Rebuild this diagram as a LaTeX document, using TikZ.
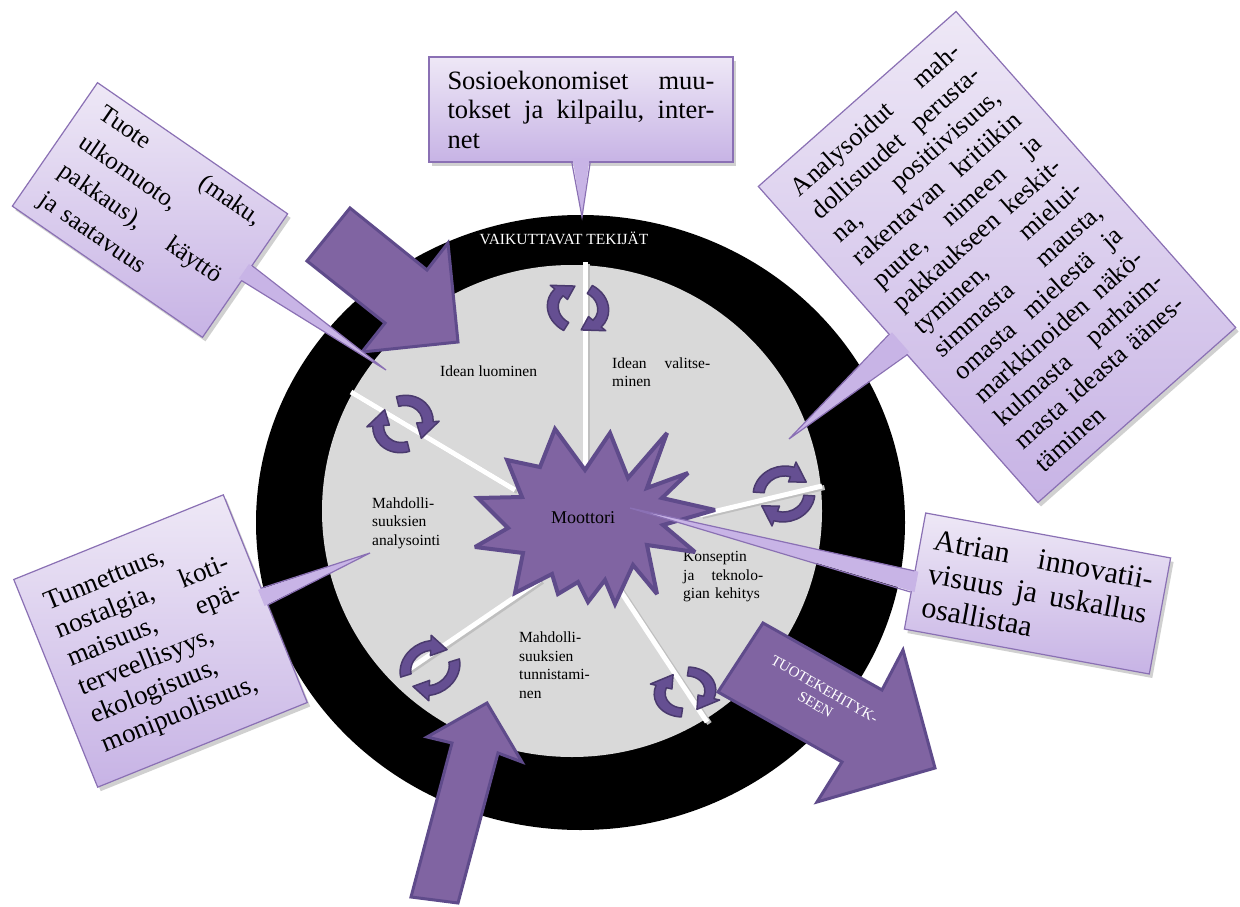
\documentclass[tikz,border=0pt]{standalone}
\usepackage{fontspec}
\setmainfont{Liberation Serif}
\usetikzlibrary{calc,shadows}
\definecolor{purp}{HTML}{8064A2}
\definecolor{purpdark}{HTML}{5F4B8B}
\definecolor{lavtop}{HTML}{EEE8F6}
\definecolor{lavbot}{HTML}{C7B3E5}
\definecolor{lavedge}{HTML}{8A70B4}
\definecolor{lavptr}{HTML}{C8B4E6}
\definecolor{disk}{HTML}{D9D9D9}
\definecolor{cycfill}{HTML}{654F92}
\definecolor{cycedge}{HTML}{4A3A6E}
\newcommand{\jl}[1]{\leavevmode\hbox to \hsize{#1}}
\tikzset{
  cyc/.pic={
    \foreach \a in {0,180}{
      \filldraw[fill=cycfill, draw=cycedge, line width=1.5, line join=round]
        (\a+15:31) arc[start angle=\a+15, end angle=\a+118, radius=31]
        -- (\a+118:37) -- (\a+160:25.5) -- (\a+118:14) -- (\a+118:20)
        arc[start angle=\a+118, end angle=\a+15, radius=20] -- cycle;
    }
  },
  bigarrow/.style={fill=purp, draw=purpdark, line width=3, line join=miter},
  starstyle/.style={fill=purp, draw=purpdark, line width=4, line join=miter, miter limit=3},
  lbl/.style={font=\fontsize{15.5}{18.5}\selectfont, inner sep=0pt, align=left, anchor=west},
  callout/.style={draw=lavedge, line width=1.2, top color=lavtop, bottom color=lavbot,
    drop shadow={shadow xshift=3pt, shadow yshift=-4pt, opacity=0.3, fill=black!60},
    inner sep=0pt, align=left},
  ptrfill/.style={fill=lavptr},
  ptredge/.style={draw=lavedge, line width=1.2, line join=miter},
  spoke/.style={draw=white, line width=5},
  spokeshadow/.style={draw=black!25, line width=5},
}
\begin{document}
\begin{tikzpicture}[x=1pt,y=-1pt]
\useasboundingbox (0,0) rectangle (1240,907);
\fill[white] (0,0) rectangle (1240,907);

% rings
\fill[black] (580.5,522.5) ellipse [x radius=324.5, y radius=307.5];
\fill[disk] (572,511) ellipse [x radius=250, y radius=246];
\node[font=\fontsize{15.5}{18}\selectfont, text=white, inner sep=0pt] (ring) at (564,238) {VAIKUTTAVAT TEKIJÄT};

% spokes
\coordinate (s1a) at (585,470); \coordinate (s1b) at (585,262);
\coordinate (s2a) at (515,490); \coordinate (s2b) at (351,392);
\coordinate (s3a) at (540,580); \coordinate (s3b) at (408,670);
\coordinate (s4a) at (600,560); \coordinate (s4b) at (707,722);
\coordinate (s5a) at (700,515); \coordinate (s5b) at (822,486);
\foreach \s in {1,...,5}{
  \draw[spokeshadow] ([shift={(2.5,1.5)}]s\s a) -- ([shift={(2.5,1.5)}]s\s b);
  \draw[spoke] (s\s a) -- (s\s b);
}

% section labels
\node[lbl] (l1) at (440,371) {Idean luominen};
\node[lbl, text width=98pt] (l2) at (612,372) {\jl{Idean\hfill valitse-}\\minen};
\node[lbl, text width=74pt] (l3) at (372,523) {Mahdolli-\\suuksien\\analysointi};
\node[lbl, text width=80pt] (l4) at (683,577) {Konseptin\\\jl{ja\hfill teknolo-}\\gian kehitys};
\node[lbl, text width=76pt] (l5) at (519,665) {Mahdolli-\\suuksien\\tunnistami-\\nen};

% cycle icons
\path (578,308) pic[rotate=75, xscale=0.85] {cyc};
\path (403,424) pic[rotate=120, xscale=0.9] {cyc};
\path (784,494) pic[rotate=10, yscale=0.9] {cyc};
\path (430,668) pic[rotate=30, yscale=0.85] {cyc};
\path (685,692) pic[rotate=100, xscale=0.8] {cyc};

% star
\draw[starstyle] (555,429) -- (585,470) -- (610,433) -- (628,478) -- (667,433) -- (647,488)
  -- (688,473) -- (662,498) -- (715,510) -- (663,525) -- (695,552) -- (647,545)
  -- (657,594) -- (633,565) -- (615,604) -- (605,580) -- (588,602) -- (578,582)
  -- (558,594) -- (552,574) -- (515,593) -- (523,553) -- (475,547) -- (508,528)
  -- (478,498) -- (522,497) -- (507,460) -- (540,467) -- cycle;
\node[font=\fontsize{18}{20}\selectfont, inner sep=0pt] (motor) at (583,518) {Moottori};

% big arrows
\draw[bigarrow] (350,208) -- (427,270) -- (448,243) -- (458,342) -- (362,352) -- (385,323) -- (307,261) -- cycle;
\draw[bigarrow] (487,703) -- (522,762) -- (498,753) -- (458,903) -- (411,897) -- (452,743) -- (427,737) -- cycle;
\draw[bigarrow] (763,623) -- (882,690) -- (903,650) -- (935,768) -- (817,802) -- (842,762) -- (718,692) -- cycle;
\node[font=\fontsize{15}{18}\selectfont, text=white, rotate=-30, align=center, inner sep=0pt] (tk) at (820,697) {TUOTEKEHITYK-\\SEEN};

% callouts
\node[callout, minimum width=304pt, minimum height=105pt, text width=267pt,
  font=\fontsize{26.5}{29.5}\selectfont] (sosio) at (581,109.5)
  {\jl{Sosioekonomiset\hfill muu-}\\\jl{tokset\hfill ja\hfill kilpailu,\hfill inter-}\\net};

\node[callout, rotate=-34.6, minimum width=231pt, minimum height=150pt, text width=192pt,
  font=\fontsize{25}{35}\selectfont] (tl) at (150,210)
  {\jl{Tuote\hfill (maku,}\\ulkomuoto,\\\jl{pakkaus),\hfill käyttö}\\ja saatavuus};

\node[callout, rotate=41.5, minimum width=264pt, minimum height=422pt, text width=216pt,
  font=\fontsize{26}{30.7}\selectfont] (rb) at (997,257)
  {\jl{Analysoidut\hfill mah-}\\
   \jl{dollisuudet\hfill perusta-}\\
   \jl{na,\hfill positiivisuus,}\\
   \jl{rakentavan\hfill kritiikin}\\
   \jl{puute,\hfill nimeen\hfill ja}\\
   \jl{pakkaukseen\hfill keskit-}\\
   \jl{tyminen,\hfill mielui-}\\
   \jl{simmasta\hfill mausta,}\\
   \jl{omasta\hfill mielestä\hfill ja}\\
   \jl{markkinoiden\hfill näkö-}\\
   \jl{kulmasta\hfill parhaim-}\\
   \jl{masta\hfill ideasta\hfill äänes-}\\
   täminen};

\node[callout, rotate=22, minimum width=226pt, minimum height=224pt, text width=185pt,
  font=\fontsize{27}{30.7}\selectfont] (lb) at (160.5,641)
  {Tunnettuus,\\\jl{nostalgia,\hfill koti-}\\\jl{maisuus,\hfill epä-}\\terveellisyys,\\ekologisuus,\\monipuolisuus,};

\node[callout, rotate=-10.4, minimum width=249pt, minimum height=118pt, text width=222pt,
  font=\fontsize{30}{34}\selectfont] (at) at (1037.5,593.5)
  {\jl{Atrian\hfill innovatii-}\\\jl{visuus\hfill ja\hfill uskallus}\\osallistaa};

% pointers
\coordinate (spa) at ($(sosio.south west)!0.47!(sosio.south east)$);
\coordinate (spb) at ($(sosio.south west)!0.53!(sosio.south east)$);
\coordinate (spt) at (582,217);
\fill[ptrfill] ($(spa)!4pt!(sosio.center)$) -- (spt) -- ($(spb)!4pt!(sosio.center)$) -- cycle;
\draw[ptredge] (spa) -- (spt) -- (spb);

\coordinate (tla) at ($(tl.north east)!0.42!(tl.south east)$);
\coordinate (tlb) at ($(tl.north east)!0.54!(tl.south east)$);
\coordinate (tlt) at (386,370);
\fill[ptrfill] ($(tla)!4pt!(tl.center)$) -- (tlt) -- ($(tlb)!4pt!(tl.center)$) -- cycle;
\draw[ptredge] (tla) -- (tlt) -- (tlb);

\coordinate (rba) at ($(rb.north west)!0.468!(rb.south west)$);
\coordinate (rbb) at ($(rb.north west)!0.532!(rb.south west)$);
\coordinate (rbt) at (789,439);
\fill[ptrfill] ($(rba)!4pt!(rb.center)$) -- (rbt) -- ($(rbb)!4pt!(rb.center)$) -- cycle;
\draw[ptredge] (rba) -- (rbt) -- (rbb);

\coordinate (lba) at ($(lb.north east)!0.45!(lb.south east)$);
\coordinate (lbb) at ($(lb.north east)!0.53!(lb.south east)$);
\coordinate (lbt) at (370,553);
\fill[ptrfill] ($(lba)!4pt!(lb.center)$) -- (lbt) -- ($(lbb)!4pt!(lb.center)$) -- cycle;
\draw[ptredge] (lba) -- (lbt) -- (lbb);

\coordinate (ata) at ($(at.north west)!0.50!(at.south west)$);
\coordinate (atb) at ($(at.north west)!0.68!(at.south west)$);
\coordinate (att) at (630,508);
\fill[ptrfill] ($(ata)!4pt!(at.center)$) -- (att) -- ($(atb)!4pt!(at.center)$) -- cycle;
\draw[ptredge] (ata) -- (att) -- (atb);
\end{tikzpicture}
\end{document}
